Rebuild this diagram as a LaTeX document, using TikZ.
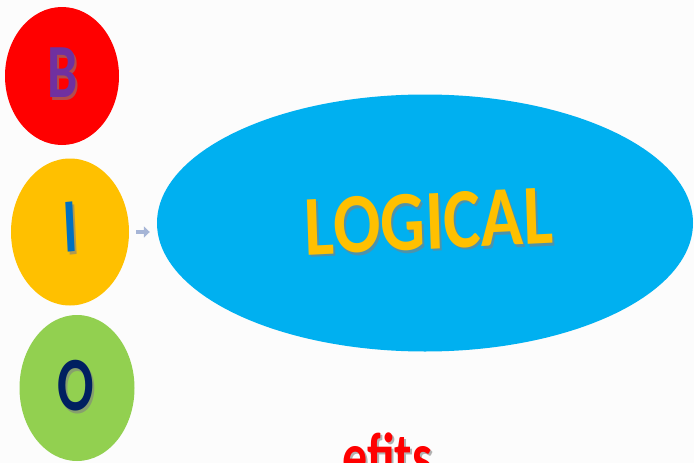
\documentclass[tikz,border=0pt]{standalone}
\usepackage{fontspec}
\setmainfont{Carlito}
\usetikzlibrary{shapes.geometric,arrows.meta}
\definecolor{bgwhite}{RGB}{252,252,252}
\definecolor{cred}{RGB}{255,0,0}
\definecolor{corange}{RGB}{255,192,0}
\definecolor{cgreen}{RGB}{146,208,80}
\definecolor{cblue}{RGB}{0,176,240}
\definecolor{lpurple}{RGB}{112,48,160}
\definecolor{lblue}{RGB}{0,112,192}
\definecolor{lnavy}{RGB}{0,32,96}
\definecolor{arrowgrey}{RGB}{166,181,214}
\tikzset{
  blob/.style={ellipse, inner sep=0pt, draw=none},
  letter/.style={font=\bfseries\fontsize{54}{60}\selectfont, yscale=1.42, inner sep=0pt},
  shadowtext/.style={text=black!50, opacity=0.6},
  bigword/.style={font=\bfseries\fontsize{70}{80}\selectfont, yscale=1.22, rotate=2.3, inner sep=0pt},
  linkarrow/.style={draw=arrowgrey, line width=4.5pt, -{Triangle[length=6pt,width=11pt]}}
}
\begin{document}
\begin{tikzpicture}[x=1pt,y=-1pt]
  \useasboundingbox (0,0) rectangle (694,463);
  \fill[bgwhite] (0,0) rectangle (694,463);
  \clip (0,0) rectangle (694,463);

  % the three letter discs
  \node[blob, fill=cred,    minimum width=114pt, minimum height=138pt] (b) at (62,76) {};
  \node[blob, fill=corange, minimum width=118pt, minimum height=147pt] (i) at (70,232) {};
  \node[blob, fill=cgreen,  minimum width=115pt, minimum height=146pt] (o) at (77,388) {};

  % the large ellipse
  \node[blob, fill=cblue, minimum width=536pt, minimum height=257pt] (logic) at (425,223) {};

  % letters with a soft drop shadow
  \node[letter, shadowtext] at (64.5,75.5) {B};
  \node[letter, text=lpurple] (bl) at (62.5,73) {B};
  \node[letter, shadowtext, rotate=4] at (72,229.5) {I};
  \node[letter, text=lblue, rotate=4] (il) at (70,227) {I};
  \node[letter, shadowtext] at (77.5,388.5) {O};
  \node[letter, text=lnavy] (ol) at (75.5,386) {O};

  % caption inside the large ellipse
  \node[bigword, shadowtext] at (431,224) {LOGICAL};
  \node[bigword, text=corange] (logictext) at (429,221.5) {LOGICAL};

  % connector from the middle disc to the ellipse
  \draw[linkarrow] ([xshift=7pt]i.east) -- ([xshift=-7pt]i.east -| logic.west);

  % red caption running off the bottom edge
  \node[font=\bfseries\fontsize{50}{56}\selectfont, yscale=1.3, text=black!50, opacity=0.6, anchor=base west, inner sep=0pt] at (344,480.5) {efits};
  \node[font=\bfseries\fontsize{50}{56}\selectfont, yscale=1.3, text=cred, anchor=base west, inner sep=0pt] (tail) at (342,478) {efits};
\end{tikzpicture}
\end{document}
